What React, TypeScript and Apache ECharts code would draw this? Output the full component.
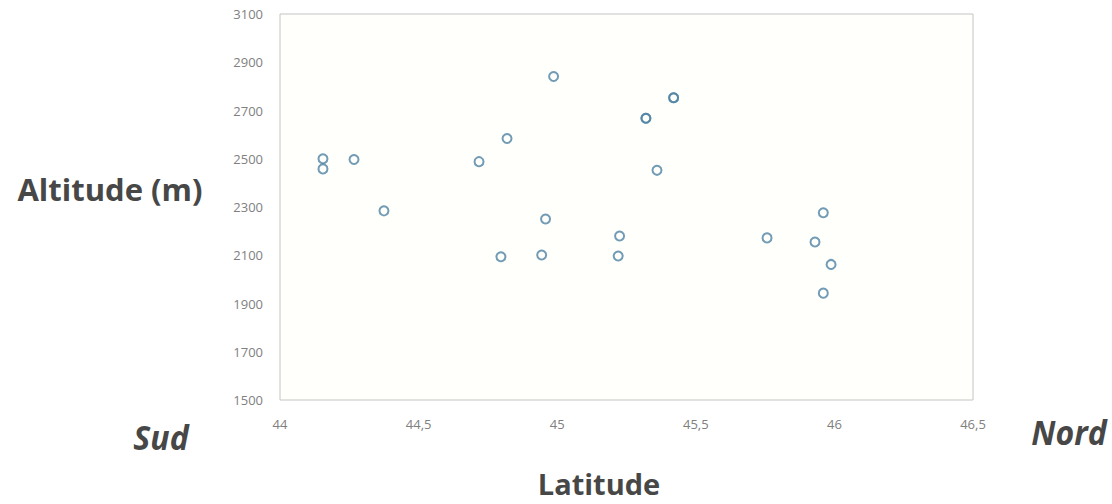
import React, { useEffect, useRef } from "react";
import * as echarts from "echarts";

const latitudes = [44.155, 44.155, 44.267, 44.375, 44.718, 44.819, 44.987, 44.958, 44.797, 44.944, 45.225, 45.22, 45.32, 45.32, 45.42, 45.42, 45.36, 45.757, 45.96, 45.93, 45.988, 45.96];
const altitudes = [2500, 2458, 2497, 2284, 2488, 2584, 2841, 2250, 2094, 2101, 2180, 2097, 2668, 2668, 2753, 2753, 2452, 2172, 2276, 2155, 2062, 1943];
const xTicks = { min: 44, max: 46.5, interval: 0.5 };
const yTicks = { min: 1500, max: 3100, interval: 200 };
const yTitle = "Altitude (m)";
const xTitle = "Latitude";
const leftLabel = "Sud";
const rightLabel = "Nord";

export default function App() {
  const ref = useRef<HTMLDivElement>(null);
  useEffect(() => {
    if (!ref.current) return;
    const chart = echarts.init(ref.current, undefined, { renderer: "svg" });
    const tickFont = "'Open Sans', 'Noto Sans', sans-serif";
    const titleFont = "'Open Sans', 'Noto Sans', sans-serif";
    const titleColor = "#474747";
    chart.setOption({
      animation: false,
      backgroundColor: "#ffffff",
      grid: {
        left: 280,
        top: 14,
        right: 139,
        bottom: 104,
        show: true,
        backgroundColor: "#fffffc",
        borderColor: "#c4c4c4",
        borderWidth: 1,
      },
      xAxis: {
        type: "value",
        min: xTicks.min,
        max: xTicks.max,
        interval: xTicks.interval,
        axisLine: { show: false },
        axisTick: { show: false },
        splitLine: { show: false },
        axisLabel: {
          color: "#808080",
          fontSize: 13,
          fontFamily: tickFont,
          margin: 17,
          formatter: (v: number) => String(v).replace(".", ","),
        },
      },
      yAxis: {
        type: "value",
        min: yTicks.min,
        max: yTicks.max,
        interval: yTicks.interval,
        axisLine: { show: false },
        axisTick: { show: false },
        splitLine: { show: false },
        axisLabel: {
          color: "#808080",
          fontSize: 13,
          fontFamily: tickFont,
          margin: 17,
          formatter: (v: number) => String(v),
        },
      },
      series: [
        {
          type: "scatter",
          data: latitudes.map((x, i) => [x, altitudes[i]]),
          symbol: "circle",
          symbolSize: 9,
          itemStyle: {
            color: "rgba(255,255,255,0)",
            borderColor: "#4f82a3",
            borderWidth: 2,
          },
        },
      ],
      graphic: [
        {
          type: "text",
          x: 110,
          y: 189,
          style: {
            text: yTitle,
            font: `bold 31px ${titleFont}`,
            lineHeight: 34,
            fill: titleColor,
            align: "center",
            verticalAlign: "middle",
          },
        },
        {
          type: "text",
          x: 599,
          y: 483,
          style: {
            text: xTitle,
            font: `bold 29px ${titleFont}`,
            lineHeight: 30,
            fill: titleColor,
            align: "center",
            verticalAlign: "middle",
          },
        },
        {
          type: "text",
          x: 161,
          y: 437,
          scaleY: 1.08,
          style: {
            text: leftLabel,
            font: `italic bold 32px ${titleFont}`,
            lineHeight: 34,
            fill: titleColor,
            align: "center",
            verticalAlign: "middle",
          },
        },
        {
          type: "text",
          x: 1069,
          y: 432,
          scaleY: 1.08,
          style: {
            text: rightLabel,
            font: `italic bold 32px ${titleFont}`,
            lineHeight: 34,
            fill: titleColor,
            align: "center",
            verticalAlign: "middle",
          },
        },
      ],
    });
    return () => chart.dispose();
  }, []);
  return <div ref={ref} style={{ width: 1112, height: 504, position: "absolute", left: 0, top: 0 }} />;
}
